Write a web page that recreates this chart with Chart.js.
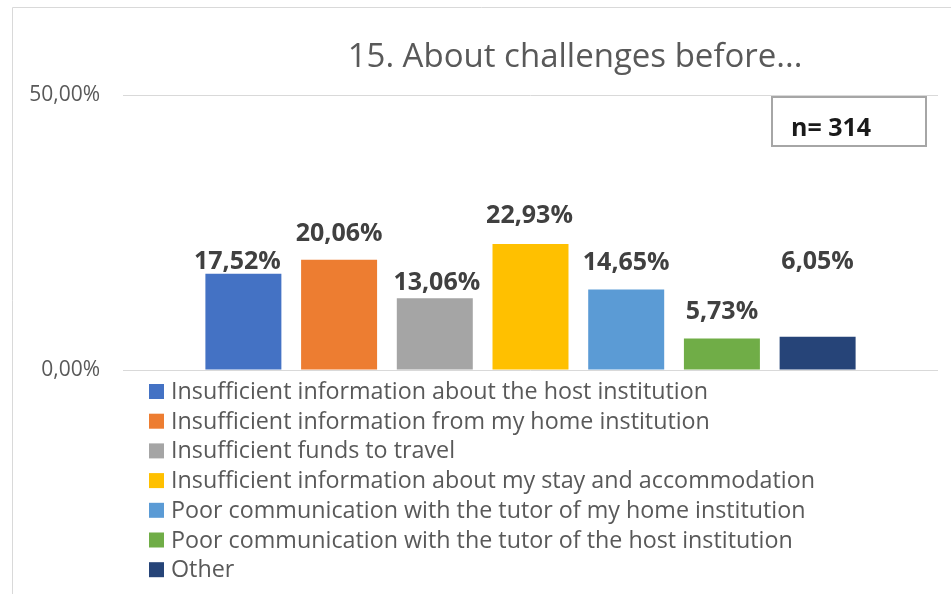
<!DOCTYPE html>
<html><head><meta charset="utf-8">
<script src="https://cdn.jsdelivr.net/npm/chart.js@4.4.1/dist/chart.umd.min.js"></script>
<style>html,body{margin:0;padding:0;background:#fff;}#wrap{width:951px;height:594px;position:relative;}</style>
</head><body><div id="wrap"><canvas id="c" width="951" height="594"></canvas></div>
<script>
const chartTitle = "15. About challenges before...";
const sampleNote = "n= 314";
const seriesNames = [
  "Insufficient information about the host institution",
  "Insufficient information from my home institution",
  "Insufficient funds to travel",
  "Insufficient information about my stay and accommodation",
  "Poor communication with the tutor of my home institution",
  "Poor communication with the tutor of the host institution",
  "Other"
];
const seriesValues = [17.52, 20.06, 13.06, 22.93, 14.65, 5.73, 6.05];
const seriesColors = ["#4472C4","#ED7D31","#A5A5A5","#FFC000","#5B9BD5","#70AD47","#264478"];
const yTicks = [0, 50];

const FONT = "'Open Sans', sans-serif";
const fmt = v => v.toFixed(2).replace('.', ',') + '%';
// label nudges (style only): dx, baseline dy from bar top
const labelNudge = [[-6,-4.5],[0,-19],[2,-8],[-1,-21],[0,-19.5],[0,-19],[0,-68]];

const decor = {
  id: 'decor',
  beforeDraw(chart) {
    const ctx = chart.ctx;
    ctx.save();
    ctx.strokeStyle = '#d9d9d9'; ctx.lineWidth = 1;
    ctx.beginPath(); ctx.moveTo(12.5, 594); ctx.lineTo(12.5, 7.5); ctx.lineTo(951, 7.5); ctx.stroke();
    ctx.restore();
  },
  afterDraw(chart) {
    const ctx = chart.ctx;
    ctx.save();
    // title
    ctx.fillStyle = '#595959';
    ctx.font = "33px " + FONT;
    ctx.textAlign = 'center'; ctx.textBaseline = 'alphabetic';
    ctx.fillText(chartTitle, 575, 67);
    // n box
    ctx.strokeStyle = '#a6a6a6'; ctx.lineWidth = 2;
    ctx.strokeRect(772, 97, 154, 49);
    ctx.fillStyle = '#1a1a1a';
    ctx.font = "bold 25px " + FONT;
    ctx.textAlign = 'left';
    ctx.fillText(sampleNote, 791, 136);
    // data labels
    ctx.fillStyle = '#404040';
    ctx.font = "bold 25px " + FONT;
    ctx.textAlign = 'center';
    chart.data.datasets.forEach((ds, i) => {
      const el = chart.getDatasetMeta(i).data[0];
      const n = labelNudge[i];
      ctx.fillText(fmt(ds.data[0]), el.x + n[0], el.y + n[1]);
    });
    // legend
    ctx.font = "23.3px " + FONT;
    ctx.textAlign = 'left';
    chart.data.datasets.forEach((ds, i) => {
      const base = 399 + i * 29.7;
      ctx.fillStyle = ds.backgroundColor;
      ctx.fillRect(149, base - 15, 15, 15);
      ctx.fillStyle = '#595959';
      ctx.fillText(ds.label, 171, base);
    });
    ctx.restore();
  }
};

new Chart(document.getElementById('c'), {
  type: 'bar',
  data: {
    labels: [''],
    datasets: seriesNames.map((name, i) => ({
      label: name,
      data: [seriesValues[i]],
      backgroundColor: seriesColors[i],
      borderWidth: 0,
      categoryPercentage: 0.822,
      barPercentage: 0.794
    }))
  },
  options: {
    responsive: false,
    animation: false,
    devicePixelRatio: 1,
    layout: { padding: { left: 0, right: 13, top: 95, bottom: 224 } },
    plugins: { legend: { display: false }, title: { display: false }, tooltip: { enabled: false } },
    scales: {
      x: { display: false },
      y: {
        min: 0, max: 50,
        afterBuildTicks(scale) { scale.ticks = yTicks.map(v => ({ value: v })); },
        afterFit(scale) { scale.width = 123; },
        border: { display: false },
        grid: { color: '#d9d9d9', lineWidth: 1, drawTicks: false },
        ticks: { padding: 23, color: '#595959', font: { family: FONT, size: 21 }, callback: v => fmt(v) }
      }
    }
  },
  plugins: [decor]
});
</script></body></html>
